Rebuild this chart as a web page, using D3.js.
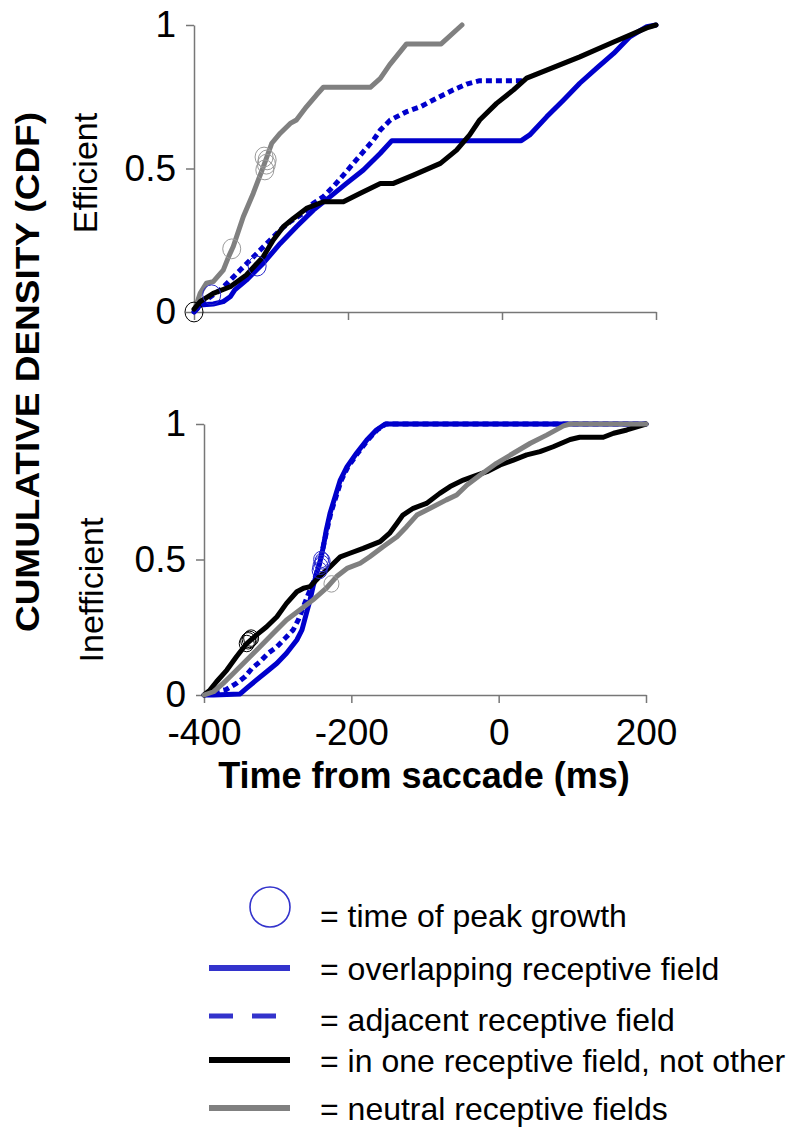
<!DOCTYPE html>
<html>
<head>
<meta charset="utf-8">
<script src="https://cdn.jsdelivr.net/npm/d3@7"></script>
<style>
  html, body { margin: 0; padding: 0; background: #fff; }
  svg { display: block; font-family: Arial, "Liberation Sans", sans-serif; }
</style>
</head>
<body>
<svg id="chart" width="791" height="1127"></svg>
<script>
// ---- data: [time from saccade (ms), cumulative density] ----
const xTicks = [-400, -200, 0, 200];
const yTicks = [0, 0.5, 1];
const yTickLabels = ["0", "0.5", "1"];

// Efficient search
const effOverlap = [[-400,0],[-392,0.024],[-375,0.028],[-362,0.036],[-353,0.053],[-347,0.077],[-332,0.111],[-310,0.17],[-288,0.239],[-267,0.297],[-245,0.355],[-223,0.402],[-202,0.448],[-180,0.495],[-158,0.553],[-143,0.597],[25,0.597],[36,0.617],[58,0.68],[80,0.739],[101,0.797],[123,0.85],[145,0.901],[166,0.959],[188,0.994],[200,1]];
const effAdjacent = [[-400,0],[-384,0.042],[-366,0.077],[-353,0.111],[-340,0.146],[-327,0.181],[-314,0.216],[-301,0.251],[-288,0.286],[-275,0.315],[-258,0.344],[-245,0.379],[-232,0.402],[-219,0.437],[-206,0.477],[-193,0.518],[-180,0.559],[-167,0.599],[-158,0.634],[-145,0.669],[-124,0.698],[-106,0.715],[-85,0.745],[-63,0.774],[-46,0.794],[-29,0.806],[28,0.806]];
const effOneField = [[-400,0.01],[-392,0.036],[-375,0.065],[-353,0.088],[-332,0.129],[-310,0.193],[-297,0.251],[-284,0.297],[-271,0.326],[-254,0.361],[-232,0.384],[-206,0.384],[-184,0.414],[-158,0.448],[-141,0.448],[-115,0.477],[-80,0.518],[-59,0.564],[-42,0.617],[-29,0.669],[-7,0.727],[15,0.774],[32,0.815],[58,0.843],[101,0.889],[145,0.941],[188,0.99],[200,1]];
const effNeutral = [[-400,0],[-392,0.065],[-384,0.1],[-375,0.106],[-362,0.146],[-355,0.193],[-349,0.228],[-336,0.332],[-323,0.414],[-310,0.506],[-299,0.588],[-288,0.623],[-275,0.657],[-267,0.669],[-254,0.715],[-241,0.756],[-232,0.783],[-171,0.783],[-158,0.814],[-146,0.861],[-124,0.934],[-79,0.934],[-52,1]];
const effPeaks = [
  {t:-400, v:0,     s:"one"},
  {t:-377, v:0.06,  s:"overlap"},
  {t:-318, v:0.16,  s:"overlap"},
  {t:-351, v:0.22,  s:"neutral"},
  {t:-308, v:0.495, s:"neutral"},
  {t:-306, v:0.515, s:"neutral"},
  {t:-305, v:0.53,  s:"neutral"},
  {t:-309, v:0.54,  s:"neutral"}
];

// Inefficient search
const ineOverlap = [[-400,0],[-387,0],[-351,0.004],[-342,0.025],[-329,0.055],[-315,0.086],[-301,0.117],[-288,0.154],[-274,0.203],[-267,0.24],[-261,0.301],[-256,0.351],[-252,0.4],[-247,0.449],[-243,0.486],[-238,0.547],[-234,0.609],[-229,0.67],[-222,0.732],[-215,0.793],[-206,0.842],[-193,0.892],[-179,0.941],[-166,0.978],[-154,1],[200,1]];
const ineAdjacent = [[-400,0],[-370,0.02],[-355,0.045],[-344,0.068],[-335,0.098],[-324,0.123],[-313,0.154],[-301,0.178],[-290,0.209],[-279,0.24],[-272,0.277],[-265,0.326],[-258,0.375],[-251,0.42],[-246,0.46],[-242,0.5],[-238,0.55],[-233,0.61],[-228,0.67],[-221,0.73],[-214,0.79],[-205,0.84],[-192,0.89],[-178,0.94],[-165,0.978],[-153,1],[200,1]];
const ineOneField = [[-400,0],[-392,0.018],[-383,0.049],[-369,0.092],[-356,0.141],[-342,0.19],[-329,0.221],[-315,0.252],[-301,0.289],[-288,0.338],[-274,0.381],[-265,0.394],[-256,0.4],[-243,0.437],[-229,0.473],[-215,0.51],[-202,0.523],[-184,0.541],[-161,0.566],[-148,0.597],[-138,0.634],[-130,0.664],[-116,0.689],[-98,0.707],[-80,0.744],[-66,0.769],[-48,0.793],[-35,0.806],[-16,0.824],[2,0.849],[20,0.867],[38,0.886],[56,0.898],[74,0.916],[97,0.943],[110,0.951],[142,0.951],[156,0.966],[174,0.978],[200,1]];
const ineNeutral = [[-400,0],[-387,0.012],[-374,0.043],[-360,0.08],[-342,0.129],[-324,0.178],[-306,0.228],[-288,0.277],[-270,0.314],[-252,0.351],[-234,0.394],[-220,0.437],[-206,0.467],[-188,0.486],[-175,0.51],[-157,0.547],[-138,0.584],[-125,0.621],[-111,0.664],[-93,0.689],[-71,0.72],[-57,0.738],[-43,0.775],[-25,0.812],[-3,0.855],[20,0.892],[43,0.929],[65,0.959],[88,0.993],[97,1],[200,1]];
const inePeaks = [
  {t:-342, v:0.19,  s:"one"},
  {t:-340, v:0.2,   s:"one"},
  {t:-338, v:0.205, s:"one"},
  {t:-336, v:0.21,  s:"one"},
  {t:-243, v:0.46,  s:"overlap"},
  {t:-242, v:0.475, s:"overlap"},
  {t:-240, v:0.485, s:"overlap"},
  {t:-239, v:0.495, s:"overlap"},
  {t:-241, v:0.5,   s:"overlap"},
  {t:-227, v:0.41,  s:"neutral"}
];

const legendItems = [
  {kind:"circle", label:"= time of peak growth"},
  {kind:"solid",  label:"= overlapping receptive field"},
  {kind:"dashed", label:"= adjacent receptive field"},
  {kind:"black",  label:"= in one receptive field, not other"},
  {kind:"gray",   label:"= neutral receptive fields"}
];

// ---- styles ----
const BLUE = "#0000cc", LEG_BLUE = "#3333cc", GRAY = "#808080", AXIS = "#777777";
const peakColor = {overlap: "#2a2acc", one: "#000000", neutral: "#9a9a9a"};

const svg = d3.select("#chart");
svg.append("rect").attr("width", 791).attr("height", 1127).attr("fill", "#fff");

function panel(opts) {
  const x = d3.scaleLinear().domain([-400, 200]).range([opts.x0, opts.x1]);
  const y = d3.scaleLinear().domain([0, 1]).range([opts.y0, opts.y1]);
  const g = svg.append("g");

  const yAxis = d3.axisLeft(y).tickValues(yTicks)
    .tickFormat((d, i) => yTickLabels[i]).tickSize(8).tickSizeOuter(0).tickPadding(10);
  const xAxis = d3.axisBottom(x).tickValues(xTicks)
    .tickFormat(opts.showX ? d3.format("d") : () => "").tickSize(8).tickSizeOuter(0).tickPadding(16);

  const ya = g.append("g").attr("transform", `translate(${opts.x0},0)`).call(yAxis);
  const xa = g.append("g").attr("transform", `translate(0,${opts.y0})`).call(xAxis);
  [ya, xa].forEach(a => {
    a.select(".domain").attr("stroke", AXIS).attr("stroke-width", 1.5);
    a.selectAll(".tick line").attr("stroke", AXIS).attr("stroke-width", 1.5);
    a.selectAll(".tick text").attr("fill", "#000").attr("font-size", 37)
      .attr("font-family", "Arial, 'Liberation Sans', sans-serif");
  });
  xa.selectAll(".tick text").text(d => opts.showX ? (d < 0 ? "-" + Math.abs(d) : String(d)) : "");

  const line = d3.line().x(d => x(d[0])).y(d => y(d[1])).curve(d3.curveLinear);
  opts.series.forEach(s => {
    g.append("path").datum(s.data).attr("d", line).attr("fill", "none")
      .attr("stroke", s.color).attr("stroke-width", opts.lw)
      .attr("stroke-linejoin", "round").attr("stroke-linecap", s.dash ? "butt" : "round")
      .attr("stroke-dasharray", s.dash || null);
  });

  g.selectAll("ellipse.peak").data(opts.peaks).join("ellipse").attr("class", "peak")
    .attr("cx", d => x(d.t)).attr("cy", d => y(d.v))
    .attr("rx", opts.r).attr("ry", opts.r * 1.1)
    .attr("fill", "none").attr("stroke", d => peakColor[d.s]).attr("stroke-width", 1);
}

// Efficient (top)
panel({
  x0: 194, x1: 656, y0: 312, y1: 25, showX: false, lw: 5, r: 9,
  series: [
    {data: effNeutral, color: GRAY},
    {data: effAdjacent, color: BLUE, dash: "6,4"},
    {data: effOverlap, color: BLUE},
    {data: effOneField, color: "#000"}
  ],
  peaks: effPeaks
});

// Inefficient (bottom)
panel({
  x0: 204, x1: 646, y0: 695, y1: 424, showX: true, lw: 5, r: 7.5,
  series: [
    {data: ineAdjacent, color: BLUE, dash: "6,4"},
    {data: ineOverlap, color: BLUE},
    {data: ineOneField, color: "#000"},
    {data: ineNeutral, color: GRAY}
  ],
  peaks: inePeaks
});

// axis titles
svg.append("text").attr("x", 424).attr("y", 788).attr("text-anchor", "middle")
  .attr("font-size", 36).attr("font-weight", "bold").text("Time from saccade (ms)");

svg.append("text").attr("transform", "translate(39,372) rotate(-90)")
  .attr("text-anchor", "middle").attr("font-size", 33).attr("font-weight", "bold")
  .attr("textLength", 520).attr("lengthAdjust", "spacingAndGlyphs")
  .text("CUMULATIVE DENSITY (CDF)");

svg.append("text").attr("transform", "translate(97,173) rotate(-90)")
  .attr("text-anchor", "middle").attr("font-size", 34).text("Efficient");
svg.append("text").attr("transform", "translate(103,590) rotate(-90)")
  .attr("text-anchor", "middle").attr("font-size", 34).text("Inefficient");

// legend
const legY = [907, 968, 1016, 1060, 1108];
const legBase = [927, 980, 1031, 1072, 1120];
const lg = svg.append("g");
legendItems.forEach((it, i) => {
  const cy = legY[i];
  if (it.kind === "circle") {
    lg.append("circle").attr("cx", 270).attr("cy", cy).attr("r", 20)
      .attr("fill", "none").attr("stroke", LEG_BLUE).attr("stroke-width", 1.6);
  } else {
    const col = it.kind === "black" ? "#000" : it.kind === "gray" ? GRAY : LEG_BLUE;
    lg.append("line").attr("x1", 209).attr("x2", 290).attr("y1", cy).attr("y2", cy)
      .attr("stroke", col).attr("stroke-width", it.kind === "dashed" ? 5 : 6)
      .attr("stroke-dasharray", it.kind === "dashed" ? "24,19" : null);
  }
  lg.append("text").attr("x", 320).attr("y", legBase[i]).attr("font-size", 32)
    .attr("fill", "#000").text(it.label);
});
</script>
</body>
</html>
